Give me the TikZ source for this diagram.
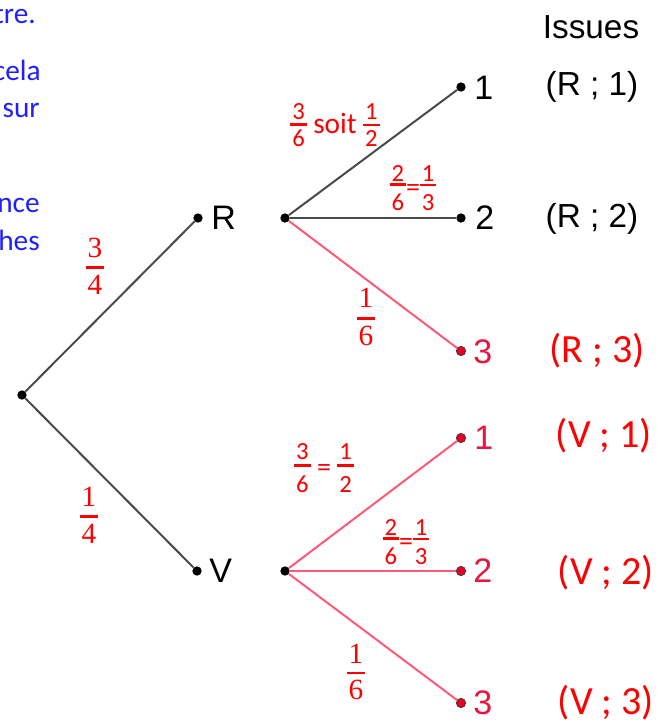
\documentclass[tikz,border=0pt]{standalone}
\usepackage{fontspec}
\setmainfont{Liberation Sans}
\newfontfamily\calfont{Carlito}
\newfontfamily\serfont{Liberation Serif}
\definecolor{lin}{HTML}{4A4A4A}
\definecolor{pk}{HTML}{FF5878}
\definecolor{rd}{HTML}{FF0000}
\definecolor{crim}{HTML}{E8153F}
\definecolor{bl}{HTML}{2020FF}
\definecolor{dotred}{HTML}{E50025}
% fraction: top gap, bottom gap, numerator, denominator
\newcommand\myfr[4]{\vcenter{\offinterlineskip\halign{\hfil\kern1.5pt##\kern1.5pt\hfil\cr#3\cr\noalign{\kern#1\hrule height 2pt\kern#2}#4\cr}}}
\newcommand\myeq{\mbox{\fontsize{21}{25}\selectfont\raisebox{-2.2pt}{=}}}
\tikzset{
  dot/.style={circle, fill=black, inner sep=0pt, minimum size=7pt},
  rdot/.style={circle, fill=dotred, draw=black!75, line width=0.6pt, inner sep=0pt, minimum size=7pt},
  bk/.style={draw=lin, line width=1.5pt},
  pkl/.style={draw=pk, line width=1.5pt},
  lab/.style={font=\fontsize{25.5}{30}\selectfont, anchor=west, inner sep=0pt},
  rlab/.style={lab, text=crim},
  iss/.style={font=\fontsize{25}{30}\selectfont, inner sep=0pt},
  riss/.style={font=\calfont\fontsize{30}{35}\selectfont, text=rd, inner sep=0pt},
  sfrac/.style={font=\serfont\fontsize{22}{26}\selectfont, text=rd, inner sep=0pt},
  cfrac/.style={font=\calfont\fontsize{18.5}{22}\selectfont, text=rd, inner sep=0pt},
  blue/.style={font=\calfont\fontsize{22}{26}\selectfont, text=bl, anchor=base east, inner sep=0pt}
}
\begin{document}
\begin{tikzpicture}[x=0.75pt,y=-0.75pt]
\useasboundingbox (0,0) rectangle (669,722);
% cut-off blue text
\node[blue] (b1) at (36,23) {tre.};
\node[blue] (b2) at (41,80) {cela};
\node[blue] (b3) at (40,117) {sur};
\node[blue] (b4) at (40,212) {nce};
\node[blue] (b5) at (40,250) {hes};
% dots
\node[dot] (root) at (22,395) {};
\node[dot] (R) at (198,218) {};
\node[dot] (V) at (197,571) {};
\node[dot] (Rb) at (285,218) {};
\node[dot] (Vb) at (285,571) {};
\node[dot] (R1) at (461,87) {};
\node[dot] (R2) at (461,218) {};
\node[rdot] (R3) at (461,351) {};
\node[rdot] (V1) at (461,438) {};
\node[rdot] (V2) at (461,571) {};
\node[rdot] (V3) at (461,703) {};
% connectors
\draw[bk] (root) -- (R);
\draw[bk] (root) -- (V);
\draw[bk] (Rb) -- (R1);
\draw[bk] (Rb) -- (R2);
\draw[pkl] (Rb) -- (R3);
\draw[pkl] (Vb) -- (V1);
\draw[pkl] (Vb) -- (V2);
\draw[pkl] (Vb) -- (V3);
% labels of nodes
\node[lab] (tR) at (211,218) {R};
\node[lab] (tV) at (209,571) {V};
\node[lab] (t1) at (474,88) {1};
\node[lab] (t2) at (475,218) {2};
\node[rlab] (t3) at (473,352) {3};
\node[rlab] (u1) at (474,438) {1};
\node[rlab] (u2) at (473,571) {2};
\node[rlab] (u3) at (473,703) {3};
% outcomes
\node[iss] (is) at (591,27) {Issues};
\node[iss] (o1) at (592,87) {(R ; 1)};
\node[iss] (o2) at (592,219) {(R ; 2)};
\node[riss] (o3) at (597,351) {(R ; 3)};
\node[riss] (o4) at (604,436) {(V ; 1)};
\node[riss] (o5) at (606,573) {(V ; 2)};
\node[riss] (o6) at (606,703) {(V ; 3)};
% probabilities
\node[sfrac] (p34) at (95,266) {$\myfr{6.5pt}{4.5pt}{3}{4}$};
\node[sfrac] (p14) at (89,515) {$\myfr{6.5pt}{4.5pt}{1}{4}$};
\node[cfrac] (pr1) at (335,125) {$\myfr{3pt}{3pt}{3}{6}\;\mbox{\fontsize{22}{26}\selectfont\raisebox{-2pt}{soit}}\;\myfr{3pt}{3pt}{1}{2}$};
\node[cfrac] (pr2) at (413,188) {$\myfr{1.5pt}{6pt}{2}{6}\myeq\myfr{1.5pt}{6pt}{1}{3}$};
\node[sfrac] (pr3) at (366,317) {$\myfr{7pt}{5pt}{1}{6}$};
\node[cfrac] (pv1) at (324,468) {$\myfr{3.5pt}{7pt}{3}{6}\;\myeq\;\myfr{3.5pt}{7pt}{1}{2}$};
\node[cfrac] (pv2) at (406,542) {$\myfr{1.5pt}{6pt}{2}{6}\myeq\myfr{1.5pt}{6pt}{1}{3}$};
\node[sfrac] (pv3) at (356,672) {$\myfr{6pt}{4.5pt}{1}{6}$};
\end{tikzpicture}
\end{document}
